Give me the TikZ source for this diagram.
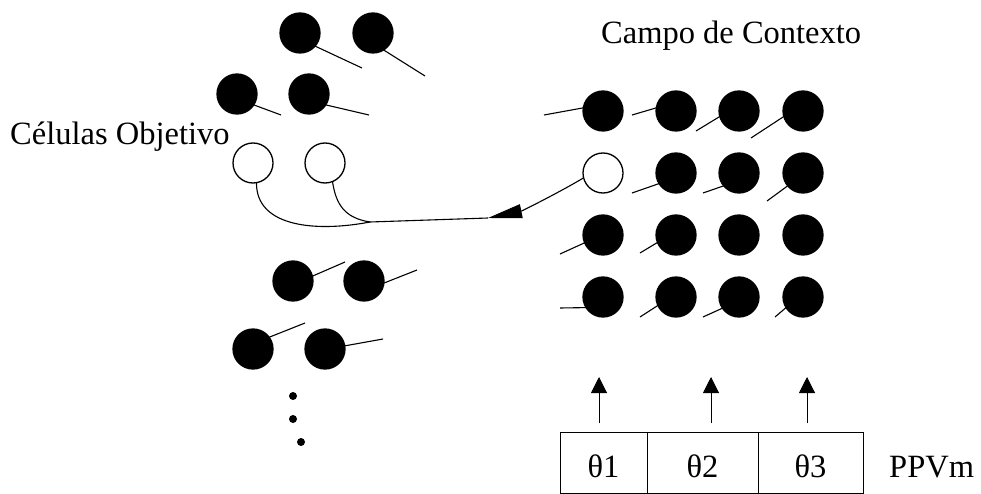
\documentclass[tikz,border=0pt]{standalone}
\usepackage{fontspec}
\setmainfont{Liberation Serif}
\usepackage{tkz-graph}
\usetikzlibrary{arrows.meta}

\tikzset{
    tail/.style = {line width=1.1pt},
    txt/.style = {inner sep=0pt},
    cell/.style = {draw, line width=1pt, minimum height=61pt, inner sep=0pt,
        text height=29pt, text depth=0pt},
    up/.style = {line width=1pt, -{Triangle[length=16pt,width=16pt]}}
}

\begin{document}
\begin{tikzpicture}[x=1pt,y=-1pt,font=\fontsize{32.5}{39}\selectfont]
    \useasboundingbox (0,0) rectangle (981,494);
    \GraphInit[vstyle=Normal]
    \tikzset{VertexStyle/.style = {shape=circle, fill=black, draw=black,
        line width=1.3pt, minimum size=40pt, inner sep=0pt}}

    % target cells, left side
    \Vertex[x=300,y=33,NoLabel]{A}
    \Vertex[x=373,y=33,NoLabel]{B}
    \Vertex[x=237,y=94,NoLabel]{C}
    \Vertex[x=309,y=94,NoLabel]{D}
    \Vertex[x=293,y=281,NoLabel]{H}
    \Vertex[x=364,y=281,NoLabel]{I}
    \Vertex[x=253,y=349,NoLabel]{J}
    \Vertex[x=325,y=349,NoLabel]{K}

    % context field
    \Vertex[x=603,y=111,NoLabel]{c11}
    \Vertex[x=676,y=111,NoLabel]{c12}
    \Vertex[x=739,y=111,NoLabel]{c13}
    \Vertex[x=803,y=111,NoLabel]{c14}
    \Vertex[x=676,y=173,NoLabel]{c22}
    \Vertex[x=739,y=173,NoLabel]{c23}
    \Vertex[x=803,y=173,NoLabel]{c24}
    \Vertex[x=603,y=235,NoLabel]{c31}
    \Vertex[x=676,y=235,NoLabel]{c32}
    \Vertex[x=739,y=235,NoLabel]{c33}
    \Vertex[x=803,y=235,NoLabel]{c34}
    \Vertex[x=603,y=297,NoLabel]{c41}
    \Vertex[x=676,y=297,NoLabel]{c42}
    \Vertex[x=739,y=297,NoLabel]{c43}
    \Vertex[x=803,y=297,NoLabel]{c44}

    % open cells
    \tikzset{VertexStyle/.append style = {fill=white}}
    \Vertex[x=253,y=163,NoLabel]{E}
    \Vertex[x=325,y=163,NoLabel]{F}
    \Vertex[x=603,y=173,NoLabel]{c21}

    \fill (293,396) circle[radius=4];
    \fill (293,419) circle[radius=4];
    \fill (301,442) circle[radius=4];

    % loose ends of the tails
    \coordinate (tA) at (362,68);
    \coordinate (tB) at (425,76);
    \coordinate (tC) at (281,115);
    \coordinate (tD) at (369,115);
    \coordinate (tH) at (345,262);
    \coordinate (tI) at (417,270);
    \coordinate (tJ) at (305,323);
    \coordinate (tK) at (383,339);
    \coordinate (t11) at (544,115);
    \coordinate (t12) at (632,115);
    \coordinate (t13) at (696,131);
    \coordinate (t14) at (751,138);
    \coordinate (t22) at (632,193);
    \coordinate (t23) at (703,193);
    \coordinate (t24) at (767,201);
    \coordinate (t31) at (560,254);
    \coordinate (t32) at (640,253);
    \coordinate (t41) at (560,308);
    \coordinate (t42) at (640,317);
    \coordinate (t43) at (703,317);
    \coordinate (t44) at (775,317);

    \draw[tail] (A.-41) -- (tA);
    \draw[tail] (B.-58) -- (tB);
    \draw[tail] (C.-33) -- (tC);
    \draw[tail] (D.-33) -- (tD);
    \draw[tail] (H.14) -- (tH);
    \draw[tail] (I.-6) -- (tI);
    \draw[tail] (J.36) -- (tJ);
    \draw[tail] (K.9) -- (tK);
    \draw[tail] (c11.171) -- (t11);
    \draw[tail] (c12.171) -- (t12);
    \draw[tail] (c13.196) -- (t13);
    \draw[tail] (c14.196) -- (t14);
    \draw[tail] (c22.212) -- (t22);
    \draw[tail] (c23.220) -- (t23);
    \draw[tail] (c24.220) -- (t24);
    \draw[tail] (c31.203) -- (t31);
    \draw[tail] (c32.202) -- (t32);
    \draw[tail] (c41.212) -- (t41);
    \draw[tail] (c42.205) -- (t42);
    \draw[tail] (c43.214) -- (t43);
    \draw[tail] (c44.212) -- (t44);

    % context cell feeding the two targets
    \coordinate (tip) at (488,218);
    \coordinate (merge) at (370,222);
    \draw[tail, -{Triangle[length=34pt,width=14pt]}]
        (c21.194) .. controls (560,192) and (522,211) .. (tip);
    \draw[tail] (tip) -- (merge);
    \draw[tail] (merge) .. controls (318,232) and (256,228) .. (E.-80);
    \draw[tail] (merge) .. controls (345,218) and (336,205) .. (F.-68);

    % parameter vector
    \node[cell, minimum width=87pt] (p1) at (603.5,462.5) {θ1};
    \node[cell, minimum width=111pt] (p2) at (702.5,462.5) {θ2};
    \node[cell, minimum width=105pt] (p3) at (810.5,462.5) {θ3};
    \coordinate (u1) at (599,423);
    \coordinate (u2) at (711,423);
    \coordinate (u3) at (807,423);
    \coordinate (v1) at (599,377);
    \coordinate (v2) at (711,377);
    \coordinate (v3) at (807,377);
    \draw[up] (u1) -- (v1);
    \draw[up] (u2) -- (v2);
    \draw[up] (u3) -- (v3);

    \node[txt, anchor=base west] (targets) at (10,145) {Células Objetivo};
    \node[txt, anchor=base west] (field) at (601,44) {Campo de Contexto};
    \node[txt, anchor=base west] (ppvm) at (889,477) {PPVm};
\end{tikzpicture}
\end{document}
